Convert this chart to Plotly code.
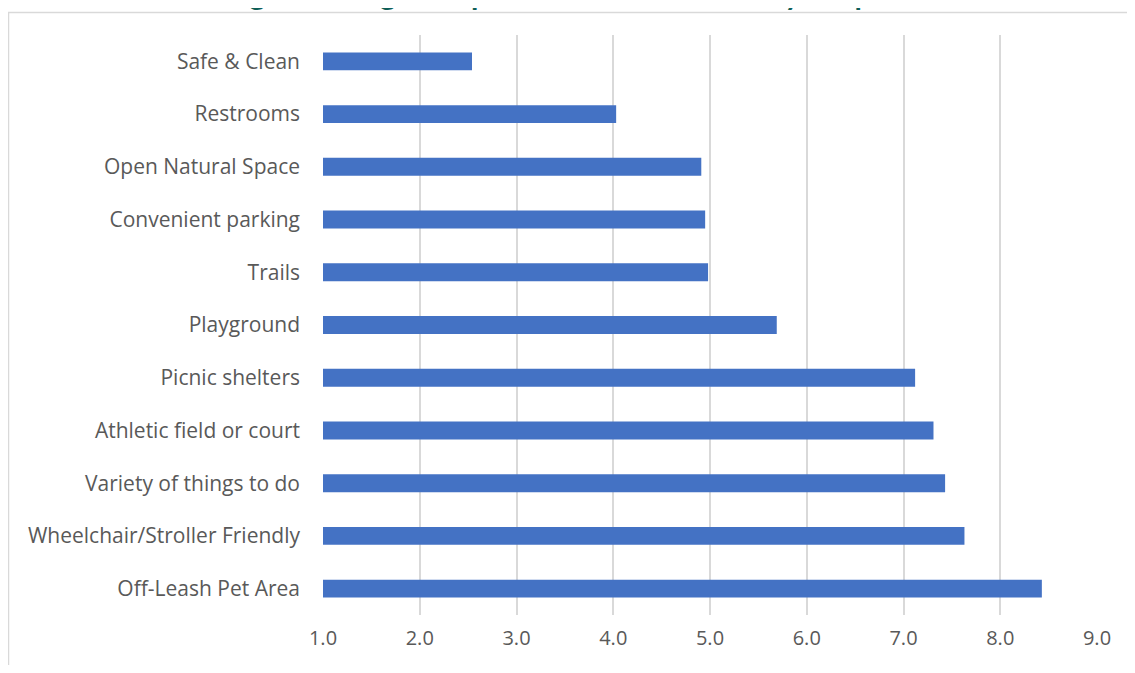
import plotly.graph_objects as go

categories = ["Off-Leash Pet Area", "Wheelchair/Stroller Friendly", "Variety of things to do",
              "Athletic field or court", "Picnic shelters", "Playground", "Trails",
              "Convenient parking", "Open Natural Space", "Restrooms", "Safe & Clean"]
values = [8.43, 7.63, 7.43, 7.31, 7.12, 5.69, 4.98, 4.95, 4.91, 4.03, 2.54]
tick_vals = [1, 2, 3, 4, 5, 6, 7, 8, 9]
tick_text = ["1.0", "2.0", "3.0", "4.0", "5.0", "6.0", "7.0", "8.0", "9.0"]
title_text = "Average Ranking of Important Park Features by Respondents"

OFF = 8  # page body margin
W, H = 1119, 657
L = 323 - OFF
T = 35 - OFF
R = W - (1097 - OFF)
B = H - (615 - OFF)
pw, ph = W - L - R, H - T - B

def px_x(page_x):
    return (page_x - OFF - L) / pw

def px_y(page_y):
    return 1 - (page_y - OFF - T) / ph

fig = go.Figure(go.Bar(
    y=categories, x=values, orientation="h",
    marker=dict(color="#4472C4", line=dict(width=0)),
))

fig.update_layout(
    width=W, height=H,
    margin=dict(l=L, r=R, t=T, b=B),
    paper_bgcolor="white", plot_bgcolor="white",
    bargap=0.66,
    showlegend=False,
    font=dict(family="Open Sans, sans-serif", size=21, color="#595959"),
    xaxis=dict(range=[1, 9], tickvals=tick_vals, ticktext=tick_text,
               showgrid=True, gridcolor="#D9D9D9", gridwidth=2,
               zeroline=False, showline=False, ticks="", ticklen=0,
               ticklabelstandoff=9,
               tickfont=dict(size=20, color="#595959")),
    yaxis=dict(showgrid=False, zeroline=False, showline=False, ticks="",
               ticklabelstandoff=22,
               tickfont=dict(size=21, color="#595959")),
    shapes=[dict(type="rect", xref="paper", yref="paper",
                 x0=px_x(8.5), x1=px_x(1300), y0=px_y(900), y1=px_y(12.5),
                 line=dict(color="#D9D9D9", width=1.5), fillcolor="rgba(0,0,0,0)",
                 layer="below")],
    annotations=[dict(text="<b>" + title_text + "</b>", xref="paper", yref="paper",
                      x=px_x(575), y=px_y(13), xanchor="center", yanchor="bottom",
                      showarrow=False,
                      font=dict(family="Lato, sans-serif", size=30, color="#0E5E57"))],
)

fig.write_html("out.html")
